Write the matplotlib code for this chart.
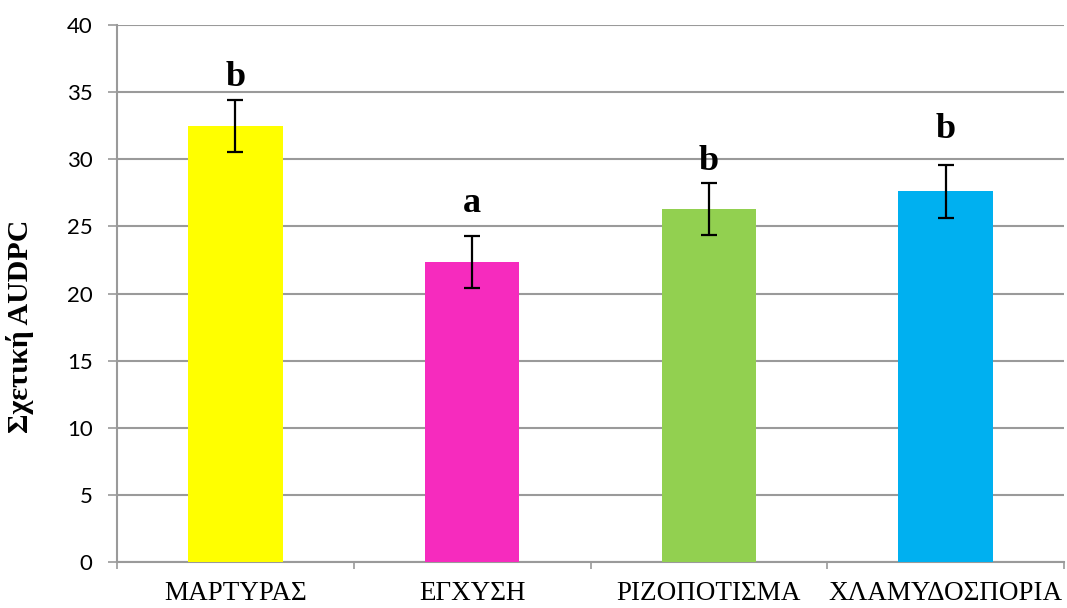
import matplotlib
matplotlib.use("Agg")
import matplotlib.pyplot as plt
import numpy as np

categories = ["ΜΑΡΤΥΡΑΣ", "ΕΓΧΥΣΗ", "ΡΙΖΟΠΟΤΙΣΜΑ", "ΧΛΑΜΥΔΟΣΠΟΡΙΑ"]
values = [32.5, 22.35, 26.3, 27.6]
errors = [1.95, 1.95, 1.95, 1.95]
letters = ["b", "a", "b", "b"]
colors = ["#FFFF00", "#F62BBE", "#92D050", "#00B0F0"]
yticks = [0, 5, 10, 15, 20, 25, 30, 35, 40]

# baseline heights (data units) of the significance letters
letter_y = [35.45, 26.05, 29.2, 31.6]

fig = plt.figure(figsize=(10.67, 6.08), dpi=100)
ax = fig.add_axes([117 / 1067, 1 - 562 / 608, (1064 - 117) / 1067, (562 - 25) / 608])

x = np.arange(len(categories))
ax.bar(x, values, width=0.4, color=colors, zorder=3)
ax.errorbar(x, values, yerr=errors, fmt="none", ecolor="black", elinewidth=1.6,
            capsize=6, capthick=1.6, zorder=4)

for xi, ly, lab in zip(x, letter_y, letters):
    ax.text(xi, ly, lab, ha="center", va="baseline",
            family="Liberation Serif", fontweight="bold", fontsize=26, zorder=5)

ax.set_xlim(-0.5, len(categories) - 0.5)
ax.set_ylim(0, 40)
ax.set_yticks(yticks)
ax.set_yticklabels([str(t) for t in yticks], family="Lato", fontsize=16)
ax.yaxis.grid(True, color="#9A9A9A", linewidth=1.5, zorder=0)
ax.set_axisbelow(True)

# Category ticks at the boundaries between groups, labels centred under bars
ax.set_xticks(np.arange(len(categories) + 1) - 0.5)
ax.set_xticklabels([])
ax.set_xticks(x, minor=True)
ax.set_xticklabels(categories, minor=True, family="Liberation Serif", fontsize=19.5)
ax.tick_params(axis="x", which="minor", length=0, pad=14)
ax.tick_params(axis="x", which="major", length=5, width=1.2, color="#9A9A9A")
ax.tick_params(axis="y", length=6.5, width=1.2, color="#9A9A9A", pad=11)

for side in ["top", "right"]:
    ax.spines[side].set_visible(False)
for side in ["left", "bottom"]:
    ax.spines[side].set_color("#9A9A9A")
    ax.spines[side].set_linewidth(1.5)

ax.set_ylabel("Σχετική AUDPC", family="Liberation Serif", fontweight="bold",
              fontsize=21.5)
ax.yaxis.set_label_coords(-83 / 947, (562 - 326) / 537)

fig.savefig("out.png", dpi=100)
